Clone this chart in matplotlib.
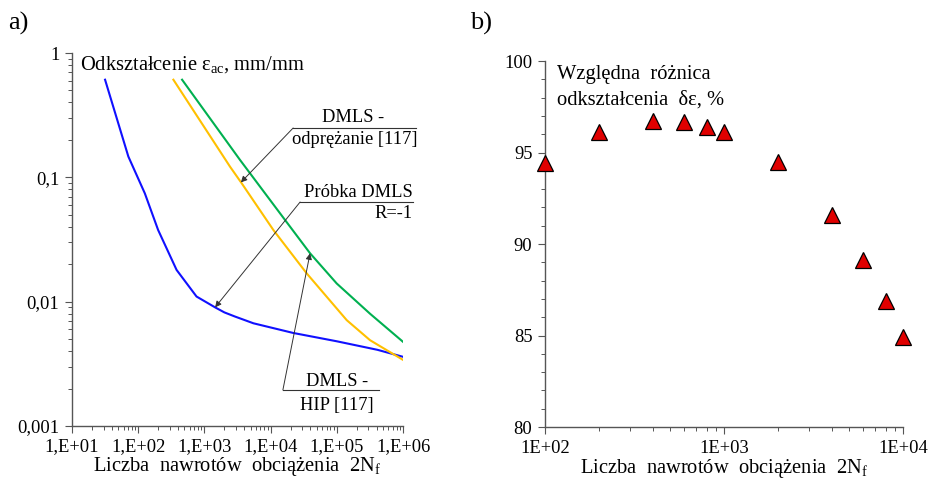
import matplotlib
matplotlib.use("Agg")
import matplotlib.pyplot as plt
import matplotlib.ticker as mticker
import numpy as np

plt.rcParams['font.family'] = ['Liberation Serif', 'DejaVu Serif']
plt.rcParams['mathtext.fontset'] = 'custom'
plt.rcParams['mathtext.rm'] = 'Liberation Serif'
plt.rcParams['mathtext.it'] = 'Liberation Serif'

# a) strain amplitude vs reversals
blue_n = [31.6, 71, 126, 200, 380, 760, 1450, 2000, 2880, 5500, 22000, 100000, 410000, 1000000]
blue_eps = [0.61, 0.147, 0.0743, 0.0377, 0.018, 0.011, 0.0090, 0.0082, 0.0076, 0.0067, 0.0056, 0.0048, 0.0041, 0.0036]

orange_n = [340, 2440, 3660, 11000, 35000, 141000, 317000, 1000000]
orange_eps = [0.61, 0.1217, 0.0895, 0.0377, 0.0169, 0.0071, 0.0049, 0.0034]

green_n = [460, 3450, 16500, 39400, 99600, 317000, 1000000]
green_eps = [0.61, 0.138, 0.0454, 0.0245, 0.0140, 0.0080, 0.00475]

left_xticks = [1e1, 1e2, 1e3, 1e4, 1e5, 1e6]
left_xlabels = ['1,E+01', '1,E+02', '1,E+03', '1,E+04', '1,E+05', '1,E+06']
left_yticks = [0.001, 0.01, 0.1, 1]
left_ylabels = ['0,001', '0,01', '0,1', '1']

# b) relative strain difference
diff_n = [100, 200, 400, 600, 800, 1000, 2000, 4000, 6000, 8000, 10000]
diff_pct = [94.4, 96.1, 96.7, 96.65, 96.4, 96.1, 94.5, 91.6, 89.1, 86.9, 84.9]

right_xticks = [1e2, 1e3, 1e4]
right_xlabels = ['1E+02', '1E+03', '1E+04']
right_yticks = [80, 85, 90, 95, 100]

fig = plt.figure(figsize=(9.3, 4.82), dpi=100)
ax1 = fig.add_axes([0.0774, 0.1162, 0.356, 0.7738])
ax2 = fig.add_axes([0.586, 0.1141, 0.385, 0.7593])

fs_tick = 13.3
fs_note = 13.3
fs_lab = 14.8

ax1.plot(blue_n, blue_eps, color='#1010ff', lw=1.5)
ax1.plot(orange_n, orange_eps, color='#ffc000', lw=1.5)
ax1.plot(green_n, green_eps, color='#00b050', lw=1.5)
ax1.set_xscale('log')
ax1.set_yscale('log')
ax1.set_xlim(1e1, 1e6)
ax1.set_ylim(1e-3, 1)
ax1.set_xticks(left_xticks)
ax1.set_xticklabels(left_xlabels)
ax1.set_yticks(left_yticks)
ax1.set_yticklabels(left_ylabels)
ax1.xaxis.set_minor_locator(mticker.LogLocator(base=10, subs=np.arange(2, 10), numticks=20))
ax1.yaxis.set_minor_locator(mticker.LogLocator(base=10, subs=np.arange(2, 10), numticks=20))
ax1.xaxis.set_minor_formatter(mticker.NullFormatter())
ax1.yaxis.set_minor_formatter(mticker.NullFormatter())
ax1.set_xlabel(r'Liczba  nawrotów  obciążenia  2N$_\mathregular{f}$', fontsize=fs_lab, labelpad=0)
ax1.text(0.024, 0.968, r'Odkształcenie $\mathregular{ε_{ac}}$, mm/mm', transform=ax1.transAxes,
         fontsize=fs_lab, va='center', ha='left')

arrow = dict(arrowstyle='-|>', color='#333333', lw=0.7, mutation_scale=9, shrinkA=0, shrinkB=0)
line_kw = dict(color='#333333', lw=0.8, transform=ax1.transAxes, clip_on=False)

# odprezanie label
ax1.plot([0.668, 1.039], [0.799, 0.799], **line_kw)
ax1.annotate('', xy=(3550, 0.091), xycoords='data', xytext=(0.668, 0.799),
             textcoords='axes fraction', arrowprops=arrow)
ax1.text(0.849, 0.826, 'DMLS -', transform=ax1.transAxes, fontsize=fs_note, ha='center', va='center')
ax1.text(0.853, 0.767, 'odprężanie [117]', transform=ax1.transAxes, fontsize=fs_note, ha='center', va='center')

# probka label
ax1.plot([0.689, 1.030], [0.6005, 0.6005], **line_kw)
ax1.annotate('', xy=(1450, 0.0090), xycoords='data', xytext=(0.689, 0.6005),
             textcoords='axes fraction', arrowprops=arrow)
ax1.text(1.030, 0.627, 'Próbka DMLS', transform=ax1.transAxes, fontsize=fs_note, ha='right', va='center')
ax1.text(1.030, 0.571, 'R=-1', transform=ax1.transAxes, fontsize=fs_note, ha='right', va='center')

# HIP label
ax1.plot([0.637, 0.927], [0.0965, 0.0965], **line_kw)
ax1.annotate('', xy=(39400, 0.0245), xycoords='data', xytext=(0.637, 0.0965),
             textcoords='axes fraction', arrowprops=arrow)
ax1.text(0.80, 0.118, 'DMLS -', transform=ax1.transAxes, fontsize=fs_note, ha='center', va='center')
ax1.text(0.80, 0.056, 'HIP [117]', transform=ax1.transAxes, fontsize=fs_note, ha='center', va='center')

# b) panel
ax2.plot(diff_n, diff_pct, linestyle='none', marker='^', markersize=11,
         markerfacecolor='#e00000', markeredgecolor='black', markeredgewidth=0.9, clip_on=False, zorder=5)
ax2.set_xscale('log')
ax2.set_xlim(1e2, 1e4)
ax2.set_ylim(80, 100)
ax2.set_xticks(right_xticks)
ax2.set_xticklabels(right_xlabels)
ax2.set_yticks(right_yticks)
ax2.xaxis.set_minor_locator(mticker.LogLocator(base=10, subs=np.arange(2, 10), numticks=20))
ax2.xaxis.set_minor_formatter(mticker.NullFormatter())
ax2.yaxis.set_minor_locator(mticker.MultipleLocator(1))
ax2.set_xlabel(r'Liczba  nawrotów  obciążenia  2N$_\mathregular{f}$', fontsize=fs_lab, labelpad=0)
ax2.text(0.034, 0.962, 'Względna  różnica', transform=ax2.transAxes, fontsize=fs_lab, va='center', ha='left')
ax2.text(0.034, 0.893, 'odkształcenia  δε, %', transform=ax2.transAxes, fontsize=fs_lab, va='center', ha='left')

for ax in (ax1, ax2):
    for side in ('top', 'right'):
        ax.spines[side].set_visible(False)
    for side in ('left', 'bottom'):
        ax.spines[side].set_color('#555555')
        ax.spines[side].set_linewidth(1.0)
    ax.tick_params(which='major', direction='out', length=5, width=0.8, color='#555555',
                   labelsize=fs_tick, pad=4)
    ax.tick_params(which='minor', direction='out', length=3, width=0.7, color='#555555')

fig.text(0.009, 0.952, 'a)', fontsize=19, va='center', ha='left')
fig.text(0.505, 0.952, 'b)', fontsize=19, va='center', ha='left')

fig.savefig('out.png', dpi=100)
